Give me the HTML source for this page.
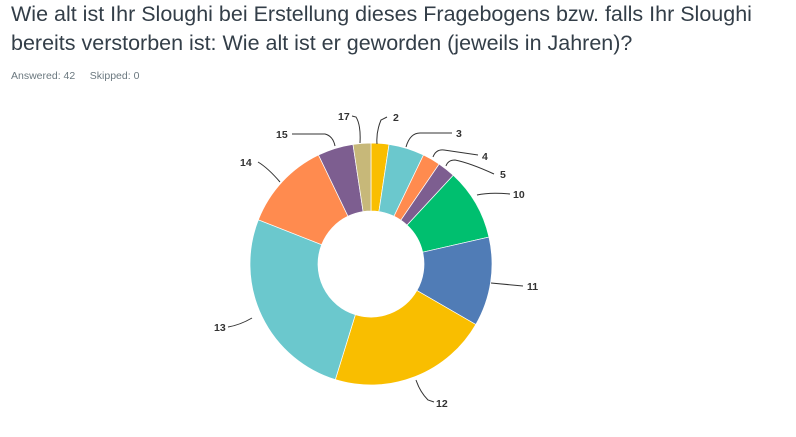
<!DOCTYPE html>
<html><head><meta charset="utf-8"><style>
body{margin:0;background:#fff;width:796px;height:437px;overflow:hidden;font-family:"Liberation Sans",sans-serif}
h1{position:absolute;left:11px;top:0px;margin:0;font-weight:normal;font-size:21.5px;line-height:29px;color:#333e48;width:790px;white-space:nowrap}
.meta{position:absolute;left:11px;top:70px;font-size:10.5px;color:#6b787f}
svg{position:absolute;left:0;top:0}
text{font-family:"Liberation Sans",sans-serif;font-size:10.5px;font-weight:bold;fill:#333}
</style></head><body>
<h1>Wie alt ist Ihr Sloughi bei Erstellung dieses Fragebogens bzw. falls Ihr Sloughi<br>bereits verstorben ist: Wie alt ist er geworden (jeweils in Jahren)?</h1>
<div class="meta">Answered: 42&nbsp;&nbsp;&nbsp;&nbsp;&nbsp;Skipped: 0</div>
<svg id="s" width="796" height="437" xmlns="http://www.w3.org/2000/svg">
<g fill="none" stroke="#333" stroke-width="1">
<path d="M377 144 Q376 132 381 120 L387 117"/>
<path d="M406 147 Q410 133 420 133 L452 133"/>
<path d="M433 157 Q436 149 444 150 L478 155"/>
<path d="M446 166 Q448 160 455 160 Q470 163 494 174"/>
<path d="M477 195 Q490 192 510 194"/>
<path d="M491 283 L523 286"/>
<path d="M416 380 Q420 392 428 400 L434 402"/>
<path d="M252 318 Q240 325 228 327"/>
<path d="M280 182 Q268 168 258 162"/>
<path d="M335 146 Q333 136 325 134 L292 134"/>
<path d="M360 143 Q361 125 356 117 L352 116"/>
</g>
<text x="393" y="121">2</text>
<text x="456" y="137">3</text>
<text x="482" y="160">4</text>
<text x="500" y="178">5</text>
<text x="513" y="198">10</text>
<text x="527" y="290">11</text>
<text x="436" y="407">12</text>
<text x="214" y="331">13</text>
<text x="240" y="166">14</text>
<text x="276" y="138">15</text>
<text x="338" y="120">17</text>
</svg>
<script>
var data=[[1,"#F9BE00"],[2,"#6BC8CD"],[1,"#FF8B4F"],[1,"#7D5E90"],[4,"#00BF6F"],[5,"#507CB6"],[9,"#F9BE00"],[11,"#6BC8CD"],[5,"#FF8B4F"],[2,"#7D5E90"],[1,"#C7B879"]];
var cx=371,cy=264,R=121,r=53,a=0,s=document.getElementById('s'),h='';
function p(ang,rad){var t=ang*Math.PI/180;return (cx+rad*Math.sin(t)).toFixed(2)+' '+(cy-rad*Math.cos(t)).toFixed(2);}
data.forEach(function(d){var b=a+d[0]/42*360,l=(b-a)>180?1:0;
h+='<path fill="'+d[1]+'" stroke="#fff" stroke-width="0.7" d="M'+p(a,R)+' A'+R+' '+R+' 0 '+l+' 1 '+p(b,R)+' L'+p(b,r)+' A'+r+' '+r+' 0 '+l+' 0 '+p(a,r)+'Z"/>';a=b;});
s.insertAdjacentHTML('afterbegin',h);
</script>
</body></html>
